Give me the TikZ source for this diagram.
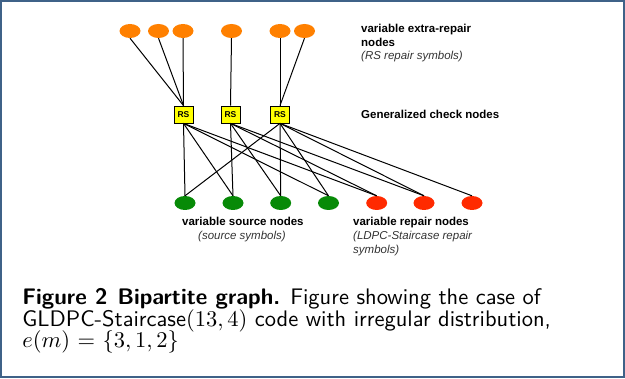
\documentclass[tikz,border=0pt]{standalone}
\usepackage{fontspec}
\newfontfamily\labfont{Liberation Sans}
\usetikzlibrary{shapes.geometric}
\definecolor{framecol}{HTML}{3F6288}
\definecolor{orangenode}{HTML}{FF8000}
\definecolor{greennode}{HTML}{078A07}
\definecolor{rednode}{HTML}{FF2A00}
\definecolor{rsyellow}{HTML}{FFFF00}
\tikzset{
  varnode/.style={ellipse, minimum width=21pt, minimum height=14pt, inner sep=0pt, draw=none},
  extranode/.style={varnode, fill=orangenode},
  srcnode/.style={varnode, fill=greennode},
  repnode/.style={varnode, fill=rednode},
  rsbox/.style={rectangle, draw=black, line width=0.8pt, fill=rsyellow, minimum width=19pt, minimum height=17pt, inner sep=0pt, font=\labfont\bfseries\fontsize{8.5}{9}\selectfont},
  conn/.style={black, line width=1pt},
  lab/.style={anchor=base west, inner sep=0pt, font=\labfont\bfseries\fontsize{11.5}{13}\selectfont},
  labit/.style={anchor=base west, inner sep=0pt, font=\labfont\itshape\fontsize{11.5}{13}\selectfont, text=black!80},
  captext/.style={anchor=base west, inner sep=0pt, scale=2.25, font=\sffamily\fontsize{10}{12}\selectfont}
}
\begin{document}
\begin{tikzpicture}[x=1pt, y=-1pt]
\useasboundingbox (0,0) rectangle (625,379);
\draw[framecol, line width=1.3pt] (1,1) rectangle (624,377);

% extra-repair nodes
\node[extranode] (o1) at (130,31) {};
\node[extranode] (o2) at (158.5,31) {};
\node[extranode] (o3) at (183,31) {};
\node[extranode] (o4) at (231.5,31) {};
\node[extranode] (o5) at (280,31) {};
\node[extranode] (o6) at (304.5,31) {};

% check nodes
\node[rsbox] (c1) at (183.5,114.5) {RS};
\node[rsbox] (c2) at (230.5,114.5) {RS};
\node[rsbox] (c3) at (280,114.5) {RS};

% source nodes
\node[srcnode] (g1) at (185,203) {};
\node[srcnode] (g2) at (233,203) {};
\node[srcnode] (g3) at (280.7,203) {};
\node[srcnode] (g4) at (328.5,203) {};
% repair nodes
\node[repnode] (r1) at (376.7,203) {};
\node[repnode] (r2) at (424,203) {};
\node[repnode] (r3) at (472,203) {};

% top edges
\foreach \a/\b in {o1/c1,o2/c1,o3/c1,o4/c2,o5/c3,o6/c3}
  \draw[conn] (\a.south) -- (\b.north);
% bottom edges
\foreach \a/\b in {c1/g1,c1/g2,c1/g4,c1/r1,c2/g2,c2/g3,c2/r1,c2/r2,c3/g1,c3/g3,c3/g4,c3/r2,c3/r3}
  \draw[conn] (\a.south) -- (\b.north);

% labels
\node[lab] (l1) at (361,33) {variable extra-repair};
\node[lab] (l2) at (361,46.5) {nodes};
\node[labit] (l3) at (361,60) {(RS repair symbols)};
\node[lab] (l4) at (361,119) {Generalized check nodes};
\node[lab] (l5) at (182,226) {variable source nodes};
\node[labit] (l6) at (198,240) {(source symbols)};
\node[lab] (l7) at (353,226) {variable repair nodes};
\node[labit] (l8) at (353,240) {(LDPC-Staircase repair};
\node[labit] (l9) at (353,254) {symbols)};

% caption
\node[captext] (k1) at (22,305) {\textbf{Figure 2\hspace{0.45em}Bipartite graph.} Figure showing the case of};
\node[captext] (k2) at (22,326.5) {GLDPC-Staircase$(13,4)$ code with irregular distribution,};
\node[captext] (k3) at (22,348) {$e(m)$ = $\{3,1,2\}$};
\end{tikzpicture}
\end{document}
